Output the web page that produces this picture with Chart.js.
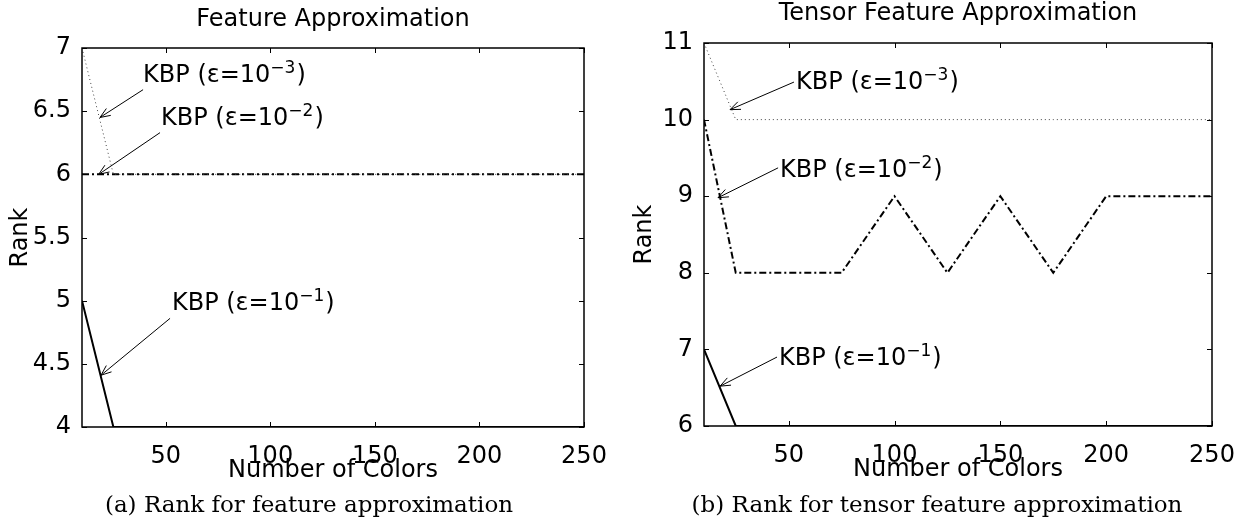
<!DOCTYPE html>
<html>
<head>
<meta charset="utf-8">
<script src="https://cdn.jsdelivr.net/npm/chart.js@4/dist/chart.umd.min.js"></script>
<style>
  body { margin: 0; background: #fff; }
  .fig { position: absolute; top: 0; }
  .cap { position: absolute; top: 493px; font: 23px/23px 'DejaVu Serif', serif; color: #000; white-space: nowrap; transform: translateX(-50%); }
</style>
</head>
<body>
<canvas id="chartA" class="fig" width="621" height="523" style="left:0"></canvas>
<canvas id="chartB" class="fig" width="622" height="523" style="left:621px"></canvas>
<div class="cap" style="left:309px">(a) Rank for feature approximation</div>
<div class="cap" style="left:937px">(b) Rank for tensor feature approximation</div>
<script>
// eixo x: numero de cores
const numColors = [10, 25, 50, 75, 100, 125, 150, 175, 200, 225, 250];
const xTicks = [50, 100, 150, 200, 250];

// (a) Feature Approximation
const rankA_e3 = [7, 6, 6, 6, 6, 6, 6, 6, 6, 6, 6];
const rankA_e2 = [6, 6, 6, 6, 6, 6, 6, 6, 6, 6, 6];
const rankA_e1 = [5, 4, 4, 4, 4, 4, 4, 4, 4, 4, 4];

// (b) Tensor Feature Approximation
const rankB_e3 = [11, 10, 10, 10, 10, 10, 10, 10, 10, 10, 10];
const rankB_e2 = [10, 8, 8, 8, 9, 8, 9, 8, 9, 9, 9];
const rankB_e1 = [7, 6, 6, 6, 6, 6, 6, 6, 6, 6, 6];

// setas com texto (em unidades dos dados)
const notesA = [
  { exp: '3', tip: [18.6, 6.45], tail: [39.2, 6.67], text: [39.2, 6.73] },
  { exp: '2', tip: [18.0, 6.0], tail: [47.3, 6.33], text: [47.8, 6.39] },
  { exp: '1', tip: [19.1, 4.41], tail: [52.1, 4.86], text: [53.0, 4.93] }
];
const notesB = [
  { exp: '3', tip: [22.3, 10.13], tail: [52.5, 10.49], text: [53.5, 10.40] },
  { exp: '2', tip: [16.6, 8.98], tail: [45.0, 9.37], text: [45.9, 9.25] },
  { exp: '1', tip: [17.6, 6.52], tail: [44.5, 6.90], text: [45.4, 6.80] }
];

Chart.defaults.font.family = "'DejaVu Sans', sans-serif";
Chart.defaults.color = '#000';

// moldura com ticks para dentro + setas
function framePlugin(notes) {
  return {
    id: 'frame',
    afterDatasetsDraw(chart) {
      const { ctx, chartArea: a, scales: { x, y } } = chart;
      ctx.save();
      ctx.strokeStyle = '#000';
      ctx.lineWidth = 1;
      ctx.beginPath();
      x.ticks.forEach(t => {
        const px = Math.round(x.getPixelForValue(t.value)) + 0.5;
        ctx.moveTo(px, a.bottom); ctx.lineTo(px, a.bottom - 5);
        ctx.moveTo(px, a.top); ctx.lineTo(px, a.top + 5);
      });
      y.ticks.forEach(t => {
        const py = Math.round(y.getPixelForValue(t.value)) + 0.5;
        ctx.moveTo(a.left, py); ctx.lineTo(a.left + 5, py);
        ctx.moveTo(a.right, py); ctx.lineTo(a.right - 5, py);
      });
      ctx.stroke();
      ctx.lineWidth = 1.5;
      ctx.strokeRect(a.left, a.top, a.right - a.left, a.bottom - a.top);

      notes.forEach(n => {
        const tx = x.getPixelForValue(n.tip[0]), ty = y.getPixelForValue(n.tip[1]);
        const sx = x.getPixelForValue(n.tail[0]), sy = y.getPixelForValue(n.tail[1]);
        ctx.lineWidth = 1;
        ctx.beginPath();
        ctx.moveTo(sx, sy); ctx.lineTo(tx, ty);
        const ang = Math.atan2(ty - sy, tx - sx) + Math.PI;
        [-0.38, 0.38].forEach(d => {
          ctx.moveTo(tx, ty);
          ctx.lineTo(tx + 11 * Math.cos(ang + d), ty + 11 * Math.sin(ang + d));
        });
        ctx.stroke();

        const px = x.getPixelForValue(n.text[0]), py = y.getPixelForValue(n.text[1]);
        ctx.fillStyle = '#000';
        ctx.textBaseline = 'alphabetic';
        ctx.textAlign = 'left';
        ctx.font = "24px 'DejaVu Sans'";
        const main = 'KBP (\u03b5=10';
        ctx.fillText(main, px, py);
        const w1 = ctx.measureText(main).width;
        ctx.font = "17px 'DejaVu Sans'";
        const sup = '\u2212' + n.exp;
        ctx.fillText(sup, px + w1, py - 9);
        const w2 = ctx.measureText(sup).width;
        ctx.font = "24px 'DejaVu Sans'";
        ctx.fillText(')', px + w1 + w2 + 1, py);
      });
      ctx.restore();
    }
  };
}

function makeChart(id, title, yMin, yMax, series, notes, lay) {
  const styles = [
    { borderColor: '#444', borderWidth: 1, borderDash: [1, 3] },
    { borderColor: '#000', borderWidth: 2, borderDash: [7, 3, 2, 3] },
    { borderColor: '#000', borderWidth: 2, borderDash: [] }
  ];
  return new Chart(document.getElementById(id), {
    type: 'line',
    data: {
      datasets: series.map((s, i) => ({
        data: numColors.map((c, k) => ({ x: c, y: s[k] })),
        pointRadius: 0,
        tension: 0,
        fill: false,
        ...styles[i]
      }))
    },
    options: {
      responsive: false,
      animation: false,
      layout: { padding: { left: 0, right: lay.right, top: 0, bottom: lay.bottom } },
      plugins: {
        legend: { display: false },
        tooltip: { enabled: false },
        title: {
          display: true,
          text: title,
          fullSize: false,
          font: { size: 24, weight: 'normal', lineHeight: 1 },
          padding: { top: lay.titleTop, bottom: lay.titleBottom }
        }
      },
      scales: {
        x: {
          type: 'linear',
          min: 10,
          max: 250,
          afterBuildTicks: s => { s.ticks = xTicks.map(v => ({ value: v })); },
          afterFit: s => { s.height = 58; },
          grid: { display: false },
          border: { display: false },
          ticks: { font: { size: 24 }, padding: 7, maxRotation: 0, autoSkip: false },
          title: { display: true, text: 'Number of Colors', font: { size: 24, lineHeight: 1 }, padding: { top: 0, bottom: 2 } }
        },
        y: {
          min: yMin,
          max: yMax,
          afterFit: s => { s.width = lay.yWidth; },
          grid: { display: false },
          border: { display: false },
          ticks: { stepSize: lay.step, font: { size: 24 }, padding: 3, callback: v => String(v) },
          title: { display: true, text: 'Rank', font: { size: 24, lineHeight: 1 }, padding: { top: lay.rankPad, bottom: 0 } }
        }
      }
    },
    plugins: [framePlugin(notes)]
  });
}

makeChart('chartA', 'Feature Approximation', 4, 7, [rankA_e3, rankA_e2, rankA_e1], notesA,
  { right: 37, bottom: 38, titleTop: 8, titleBottom: 16, yWidth: 82, rankPad: 9, step: 0.5 });
makeChart('chartB', 'Tensor Feature Approximation', 6, 11, [rankB_e3, rankB_e2, rankB_e1], notesB,
  { right: 31, bottom: 39, titleTop: 2, titleBottom: 17, yWidth: 83, rankPad: 12, step: 1 });
</script>
</body>
</html>
